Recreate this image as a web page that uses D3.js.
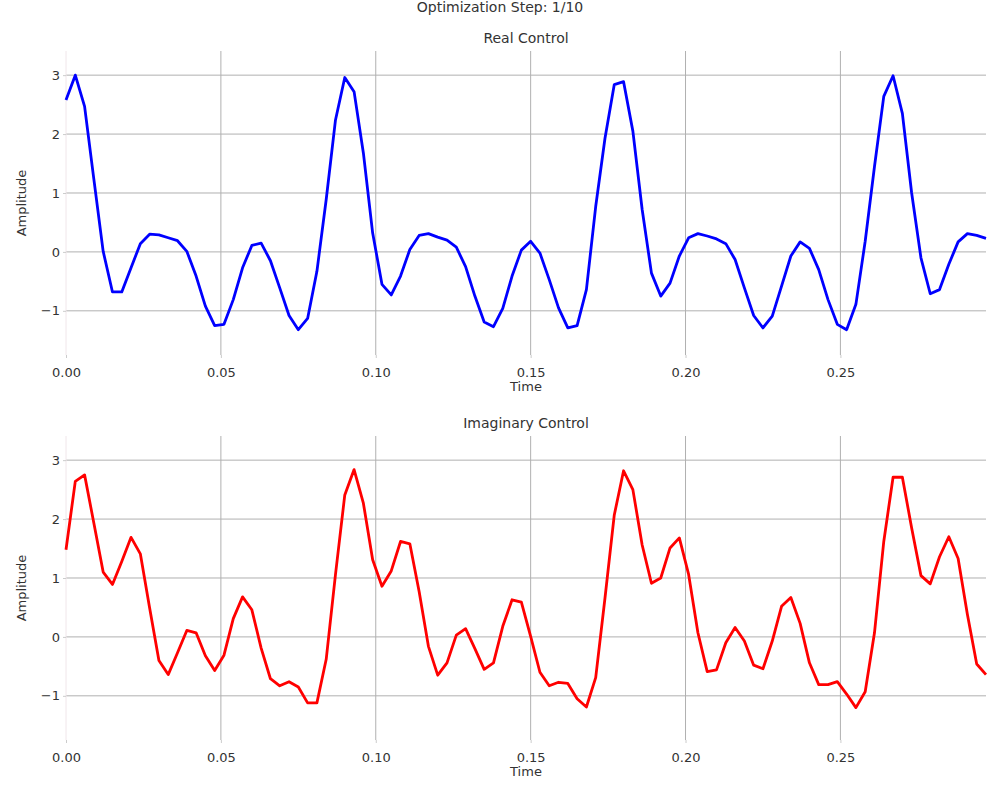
<!DOCTYPE html>
<html>
<head>
<meta charset="utf-8">
<script src="https://cdn.jsdelivr.net/npm/d3@7"></script>
<style>
body { margin: 0; background: #fff; }
text { font-family: "DejaVu Sans", sans-serif; fill: #333; }
</style>
</head>
<body>
<svg id="chart" width="1000" height="800"></svg>
<script>
var dt = 0.003;
var realVals = [2.58,3.0,2.47,1.23,0.01,-0.68,-0.68,-0.27,0.14,0.30,
  0.29,0.24,0.19,0.01,-0.41,-0.92,-1.25,-1.23,-0.81,-0.27,
  0.11,0.15,-0.15,-0.61,-1.08,-1.32,-1.13,-0.33,0.89,2.24,
  2.96,2.72,1.68,0.32,-0.55,-0.73,-0.41,0.04,0.28,0.31,
  0.25,0.20,0.08,-0.25,-0.75,-1.19,-1.27,-0.96,-0.41,0.03,
  0.18,-0.02,-0.47,-0.95,-1.29,-1.25,-0.64,0.77,1.93,2.84,
  2.89,2.05,0.72,-0.36,-0.75,-0.53,-0.07,0.24,0.31,0.27,
  0.22,0.14,-0.13,-0.61,-1.08,-1.29,-1.09,-0.58,-0.07,0.17,
  0.06,-0.30,-0.81,-1.23,-1.32,-0.89,0.18,1.45,2.64,2.99,
  2.35,1.00,-0.10,-0.71,-0.64,-0.21,0.17,0.31,0.28,0.23];
var imagVals = [1.48,2.64,2.75,1.93,1.10,0.89,1.28,1.69,1.41,0.49,
  -0.40,-0.64,-0.27,0.11,0.07,-0.32,-0.57,-0.31,0.31,0.68,
  0.46,-0.19,-0.71,-0.83,-0.76,-0.85,-1.12,-1.12,-0.38,1.06,
  2.41,2.84,2.27,1.31,0.86,1.12,1.62,1.58,0.77,-0.16,
  -0.65,-0.44,0.03,0.14,-0.20,-0.55,-0.44,0.18,0.63,0.59,
  0.01,-0.60,-0.83,-0.77,-0.79,-1.05,-1.19,-0.69,0.66,2.07,
  2.82,2.50,1.56,0.91,1.00,1.51,1.68,1.06,0.07,-0.59,
  -0.56,-0.10,0.16,-0.07,-0.48,-0.54,-0.07,0.52,0.67,0.23,
  -0.44,-0.81,-0.81,-0.76,-0.97,-1.20,-0.93,0.07,1.62,2.71,
  2.71,1.85,1.04,0.90,1.36,1.70,1.33,0.38,-0.46,-0.64];
var xTicks = [0, 0.05, 0.10, 0.15, 0.20, 0.25];
var yTicks = [-1, 0, 1, 2, 3];

var svg = d3.select("#chart");

svg.append("text").attr("x", 500).attr("y", 12).attr("text-anchor", "middle")
  .style("font-size", "14px").text("Optimization Step: 1/10");

var x = d3.scaleLinear().domain([0, 0.297]).range([66, 986]);

function panel(vals, color, title, top) {
  var y = d3.scaleLinear().domain([-1.75, 3.41]).range([top + 304, top]);
  var g = svg.append("g");
  var data = vals.map(function(v, i) { return {t: i * dt, v: v}; });

  g.selectAll(".hg").data(yTicks).enter().append("line")
    .attr("x1", 66).attr("x2", 986)
    .attr("y1", function(d) { return y(d); }).attr("y2", function(d) { return y(d); })
    .attr("stroke", "#b0b0b0").attr("stroke-width", 1);
  g.selectAll(".vg").data(xTicks).enter().append("line")
    .attr("x1", function(d) { return x(d); }).attr("x2", function(d) { return x(d); })
    .attr("y1", top).attr("y2", top + 304)
    .attr("stroke", function(d) { return d === 0 ? "#f0e6ea" : "#b0b0b0"; }).attr("stroke-width", 1);

  var xa = g.append("g").attr("transform", "translate(0," + (top + 304) + ")")
    .call(d3.axisBottom(x).tickValues(xTicks).tickFormat(d3.format(".2f")).tickSize(3));
  var ya = g.append("g").attr("transform", "translate(66,0)")
    .call(d3.axisLeft(y).tickValues(yTicks).tickFormat(function(d) { return d < 0 ? "\u2212" + (-d) : d; }).tickSize(3));
  [xa, ya].forEach(function(a) {
    a.select(".domain").remove();
    a.selectAll("line").attr("stroke", "#ccc");
    a.selectAll("text").style("font-size", "13px").style("fill", "#333")
      .style("font-family", "DejaVu Sans, sans-serif");
  });
  xa.selectAll("text").attr("dy", "1.2em");

  g.append("path").datum(data)
    .attr("fill", "none").attr("stroke", color).attr("stroke-width", 2.8)
    .attr("stroke-linejoin", "round")
    .attr("d", d3.line().x(function(d) { return x(d.t); }).y(function(d) { return y(d.v); }));

  g.append("text").attr("x", 526).attr("y", top - 8).attr("text-anchor", "middle")
    .style("font-size", "14px").text(title);
  g.append("text").attr("x", 526).attr("y", top + 340).attr("text-anchor", "middle")
    .style("font-size", "13px").text("Time");
  g.append("text").attr("transform", "translate(26," + (top + 152) + ") rotate(-90)")
    .attr("text-anchor", "middle").style("font-size", "13px").text("Amplitude");
}

panel(realVals, "blue", "Real Control", 51);
panel(imagVals, "red", "Imaginary Control", 436);
</script>
</body>
</html>
